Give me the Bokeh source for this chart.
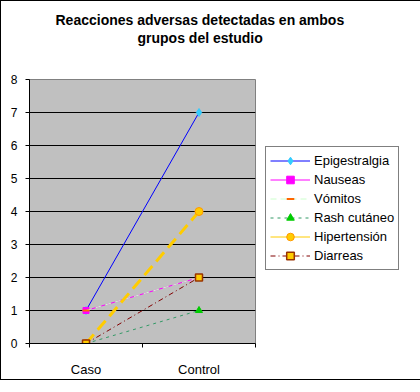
from bokeh.plotting import figure
from bokeh.models import FixedTicker, Legend, Range1d, Title
from bokeh.embed import file_html
from bokeh.resources import INLINE

title_lines = ["Reacciones adversas detectadas en  ambos", "grupos del estudio"]
categories = ["Caso", "Control"]
epigestralgia = [1, 7]
nauseas = [1, 2]
vomitos = [1, 2]
rash = [0, 1]
hipertension = [0, 4]
diarreas = [0, 2]

xs = [i + 0.5 for i in range(len(categories))]

p = figure(frame_width=226, frame_height=264, output_backend="svg", toolbar_location=None,
           x_range=Range1d(0, len(categories)), y_range=Range1d(0, 8),
           min_border_left=28, min_border_right=0, min_border_top=78, min_border_bottom=32,
           title=None)
p.styles = {"border": "1px solid black"}
p.background_fill_color = "#C0C0C0"
p.border_fill_color = "white"
p.outline_line_color = "#808080"
p.outline_line_width = 1

FONT = "Liberation Sans"

# spacer between the title block and the plot area
p.add_layout(Title(text=" ", text_font=FONT, text_font_size="14px", standoff=16), "above")
title_offsets = [108, 26]  # for line 2, line 1 (left align, from frame left)
for i, line in enumerate(reversed(title_lines)):
    t = Title(text=line, align="left", offset=title_offsets[i], text_font=FONT,
              text_font_size="14px", text_font_style="bold", text_color="black", standoff=0)
    p.add_layout(t, "above")

# x axis
p.xaxis.ticker = FixedTicker(ticks=xs, minor_ticks=list(range(len(categories) + 1)))
p.xaxis.major_label_overrides = {x: c for x, c in zip(xs, categories)}
p.xaxis.major_tick_out = 0
p.xaxis.major_tick_in = 0
p.xaxis.minor_tick_out = 4
p.xaxis.minor_tick_in = 0
p.xaxis.minor_tick_line_color = "black"
p.xaxis.major_label_standoff = 14
p.xaxis.axis_line_color = "black"
p.xaxis.major_label_text_font_size = "13px"

p.yaxis.ticker = FixedTicker(ticks=list(range(0, 9)))
p.yaxis.major_tick_out = 4
p.yaxis.major_tick_in = 0
p.yaxis.minor_tick_line_color = None
p.yaxis.major_label_standoff = 8
p.yaxis.axis_line_color = "black"
p.yaxis.major_label_text_font_size = "12px"

for ax in (p.xaxis, p.yaxis):
    ax.major_label_text_font = FONT
    ax.major_label_text_color = "black"

p.xgrid.grid_line_color = None
p.ygrid.grid_line_color = "black"
p.ygrid.grid_line_alpha = 1
p.ygrid.ticker = FixedTicker(ticks=list(range(1, 8)))

items = []
r1 = p.line(xs, epigestralgia, line_color="#0000FF", line_width=1)
m1 = p.scatter(xs, epigestralgia, marker="diamond", size=8, fill_color="#33CCFF", line_color="#33CCFF")
items.append(("Epigestralgia", [r1, m1]))

r2 = p.line(xs, nauseas, line_color="#FF00FF", line_width=1)
m2 = p.scatter(xs, nauseas, marker="square", size=6, fill_color="#FF00FF", line_color="#FF00FF")
items.append(("Nauseas", [r2, m2]))

r3 = p.line(xs, vomitos, line_color="#CCFFCC", line_width=1, line_dash="6 4")
m3 = p.scatter(xs, vomitos, marker="dash", size=7, line_color="#FF6600", line_width=2)
items.append(("Vómitos", [r3, m3]))

r4 = p.line(xs, rash, line_color="#339966", line_width=1, line_dash="3 4")
m4 = p.scatter(xs, rash, marker="triangle", size=7, fill_color="#00CC00", line_color="#00CC00")
items.append(("Rash cutáneo", [r4, m4]))

r5 = p.line(xs, hipertension, line_color="#FFCC00", line_width=3, line_dash="12 6")
m5 = p.scatter(xs, hipertension, marker="circle", size=8, fill_color="#FFCC00", line_color="#FF9900")
# legend key only: the reference legend shows a thin solid line for this series
r5_key = p.line(xs, [float("nan")] * len(xs), line_color="#FFCC00", line_width=1)
items.append(("Hipertensión", [r5_key, m5]))

r6 = p.line(xs, diarreas, line_color="#800000", line_width=1, line_dash="5 3 1 3")
m6 = p.scatter(xs, diarreas, marker="square", size=7, fill_color="#FFCC00", line_color="#993300", line_width=1.5)
items.append(("Diarreas", [r6, m6]))

legend = Legend(items=items, location=(10, 73))
legend.label_text_font = FONT
legend.label_text_font_size = "13px"
legend.label_text_color = "black"
legend.border_line_color = "black"
legend.border_line_width = 1
legend.background_fill_color = "white"
legend.glyph_width = 40
legend.glyph_height = 19
legend.label_height = 19
legend.spacing = 0
legend.padding = 4
legend.margin = 0
legend.label_standoff = 4
p.add_layout(legend, "right")

open("out.html", "w").write(file_html(p, INLINE))
